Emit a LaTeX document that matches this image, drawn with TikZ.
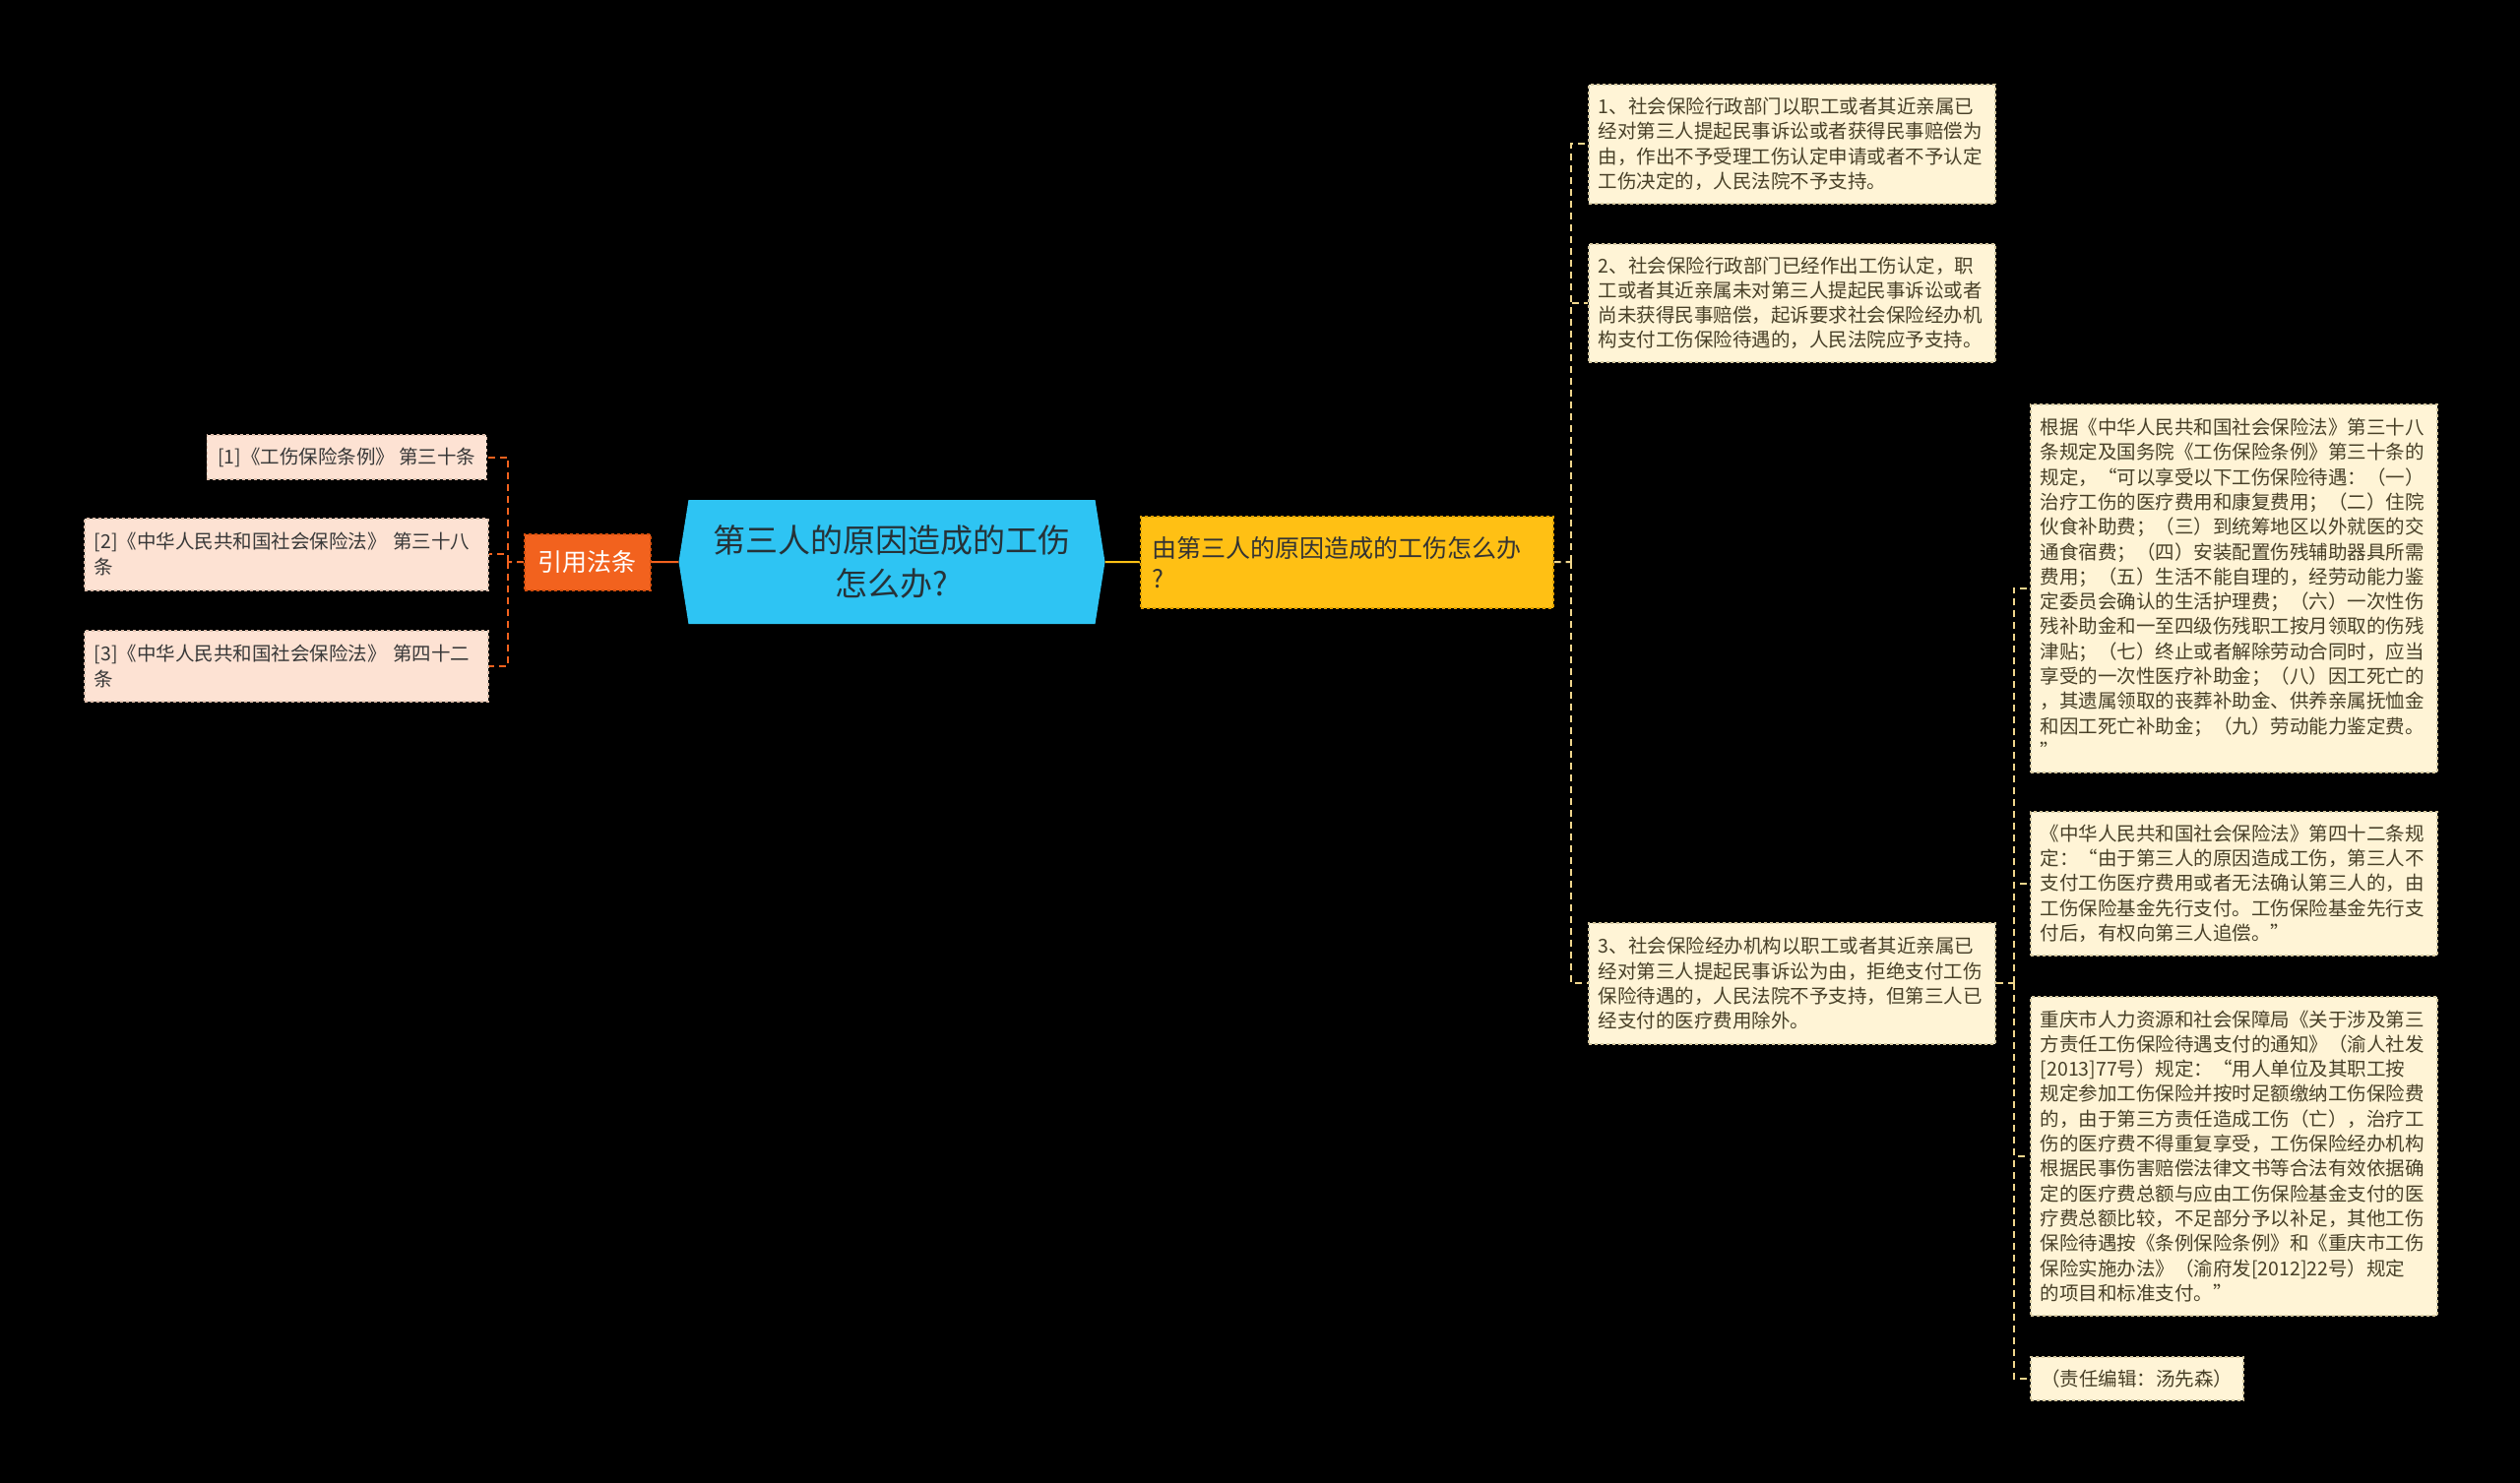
\documentclass[tikz,border=0pt]{standalone}
\usepackage{fontspec}
\setmainfont{Noto Sans CJK SC}
\usepackage{tikz}
\usetikzlibrary{shapes,positioning,calc}
\definecolor{maincyan}{RGB}{46,196,243}
\definecolor{maintext}{RGB}{38,50,56}
\definecolor{subyellow}{RGB}{255,192,20}
\definecolor{subedge}{RGB}{226,160,0}
\definecolor{citeorange}{RGB}{242,98,30}
\definecolor{citeedge}{RGB}{214,78,12}
\definecolor{lawpeach}{RGB}{253,226,211}
\definecolor{lawedge}{RGB}{222,190,172}
\definecolor{notecream}{RGB}{255,244,214}
\definecolor{noteedge}{RGB}{214,200,160}
\definecolor{notetext}{RGB}{72,64,40}
\definecolor{linkcream}{RGB}{240,214,140}

\begin{document}
\begin{tikzpicture}[
    x=1pt, y=-1pt,
    mainbox/.style={signal, signal to=west and east, signal pointer angle=162, fill=maincyan, text=maintext, minimum width=433pt, minimum height=126pt, inner sep=0pt, align=center, font=\fontsize{33}{44}\selectfont},
    subbox/.style={draw=subedge, dashed, line width=1.5pt, fill=subyellow, text=black!80, text width=395pt, minimum height=93pt, inner xsep=12pt, align=left, anchor=north west, font=\fontsize{25}{31}\selectfont},
    citebox/.style={draw=citeedge, dashed, line width=1.5pt, fill=citeorange, text=white, minimum width=128pt, minimum height=57pt, anchor=north west, font=\fontsize{25}{30}\selectfont},
    lawbox/.style={draw=lawedge, dashed, line width=1.5pt, fill=lawpeach, text=black!78, inner xsep=10pt, align=left, font=\fontsize{19.5}{26}\selectfont},
    notebox/.style={draw=noteedge, dashed, line width=1.5pt, fill=notecream, text=notetext, text width=393pt, inner xsep=10pt, align=left, anchor=north west, font=\fontsize{19.5}{25.3}\selectfont},
    citelink/.style={draw=citeorange, line width=2pt, dash pattern=on 7pt off 5pt},
    notelink/.style={draw=linkcream, line width=2pt, dash pattern=on 7pt off 5pt}
]
    \useasboundingbox[fill=black] (0,0) rectangle (2560,1507);

    \node[mainbox] (main) at (906,571) {第三人的原因造成的工伤\\怎么办?};
    \node[subbox] (sub) at (1158,524) {由第三人的原因造成的工伤怎么办\\?};
    \node[citebox] (cite) at (532,542) {引用法条};

    \node[lawbox, anchor=east, minimum width=284pt, minimum height=45pt] (law1) at (495,464.5) {[1]《工伤保险条例》 第三十条};
    \node[lawbox, anchor=north west, text width=390pt, minimum height=73pt] (law2) at (85,526) {[2]《中华人民共和国社会保险法》 第三十八\\条};
    \node[lawbox, anchor=north west, text width=390pt, minimum height=72pt] (law3) at (85,640) {[3]《中华人民共和国社会保险法》 第四十二\\条};

    \node[notebox, minimum height=121pt] (rule1) at (1613,85) {1、社会保险行政部门以职工或者其近亲属已\\经对第三人提起民事诉讼或者获得民事赔偿为\\由，作出不予受理工伤认定申请或者不予认定\\工伤决定的，人民法院不予支持。};
    \node[notebox, minimum height=120pt] (rule2) at (1613,247) {2、社会保险行政部门已经作出工伤认定，职\\工或者其近亲属未对第三人提起民事诉讼或者\\尚未获得民事赔偿，起诉要求社会保险经办机\\构支付工伤保险待遇的，人民法院应予支持。};
    \node[notebox, minimum height=123pt] (rule3) at (1613,937) {3、社会保险经办机构以职工或者其近亲属已\\经对第三人提起民事诉讼为由，拒绝支付工伤\\保险待遇的，人民法院不予支持，但第三人已\\经支付的医疗费用除外。};

    \node[notebox, minimum height=374pt] (basis1) at (2062,410) {根据《中华人民共和国社会保险法》第三十八\\条规定及国务院《工伤保险条例》第三十条的\\规定，“可以享受以下工伤保险待遇：（一）\\治疗工伤的医疗费用和康复费用；（二）住院\\伙食补助费；（三）到统筹地区以外就医的交\\通食宿费；（四）安装配置伤残辅助器具所需\\费用；（五）生活不能自理的，经劳动能力鉴\\定委员会确认的生活护理费；（六）一次性伤\\残补助金和一至四级伤残职工按月领取的伤残\\津贴；（七）终止或者解除劳动合同时，应当\\享受的一次性医疗补助金；（八）因工死亡的\\，其遗属领取的丧葬补助金、供养亲属抚恤金\\和因工死亡补助金；（九）劳动能力鉴定费。\\”};
    \node[notebox, minimum height=146pt] (basis2) at (2062,824) {《中华人民共和国社会保险法》第四十二条规\\定：“由于第三人的原因造成工伤，第三人不\\支付工伤医疗费用或者无法确认第三人的，由\\工伤保险基金先行支付。工伤保险基金先行支\\付后，有权向第三人追偿。”};
    \node[notebox, minimum height=324pt] (basis3) at (2062,1012) {重庆市人力资源和社会保障局《关于涉及第三\\方责任工伤保险待遇支付的通知》（渝人社发\\{}[2013]77号）规定：“用人单位及其职工按\\规定参加工伤保险并按时足额缴纳工伤保险费\\的，由于第三方责任造成工伤（亡），治疗工\\伤的医疗费不得重复享受，工伤保险经办机构\\根据民事伤害赔偿法律文书等合法有效依据确\\定的医疗费总额与应由工伤保险基金支付的医\\疗费总额比较，不足部分予以补足，其他工伤\\保险待遇按《条例保险条例》和《重庆市工伤\\保险实施办法》（渝府发[2012]22号）规定\\的项目和标准支付。”};
    \node[notebox, text width=, minimum width=216pt, minimum height=44pt] (editor) at (2062,1378) {（责任编辑：汤先森）};

    \coordinate (citejoint) at (516,571);
    \coordinate (subjoint) at (1596,571);
    \coordinate (rulejoint) at ($(rule3.east)+(18,0)$);

    \draw[citeorange, line width=2pt] (main.west) -- (cite.east);
    \draw[subyellow, line width=2pt] (main.east) -- (sub.west);

    \draw[citelink] (cite.west) -- (citejoint);
    \draw[citelink] (citejoint) |- (law1.east);
    \draw[citelink] (citejoint) |- (law2.east);
    \draw[citelink] (citejoint) |- (law3.east);

    \draw[notelink] (sub.east) -- (subjoint);
    \draw[notelink] (subjoint) |- (rule1.west);
    \draw[notelink] (subjoint) |- (rule2.west);
    \draw[notelink] (subjoint) |- (rule3.west);

    \draw[notelink] (rule3.east) -- (rulejoint);
    \draw[notelink] (rulejoint) |- (basis1.west);
    \draw[notelink] (rulejoint) |- (basis2.west);
    \draw[notelink] (rulejoint) |- (basis3.west);
    \draw[notelink] (rulejoint) |- (editor.west);
\end{tikzpicture}
\end{document}
